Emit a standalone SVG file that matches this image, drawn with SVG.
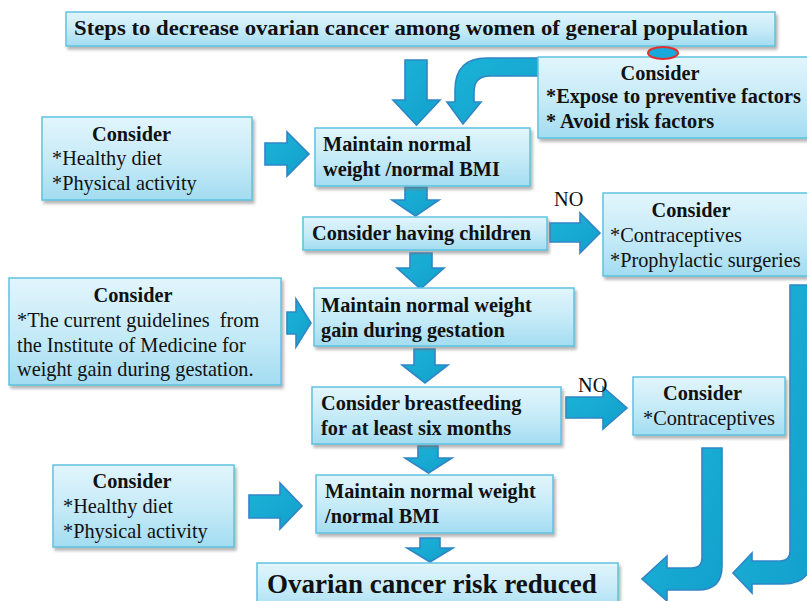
<svg xmlns="http://www.w3.org/2000/svg" width="807" height="601" viewBox="0 0 807 601">
<defs>
<linearGradient id="boxg" x1="0" y1="0" x2="0" y2="1">
<stop offset="0" stop-color="#e2f5fc"/>
<stop offset="0.55" stop-color="#c4eaf7"/>
<stop offset="1" stop-color="#a3dcf1"/>
</linearGradient>
<linearGradient id="arrg" x1="0" y1="0" x2="1" y2="1">
<stop offset="0" stop-color="#1cb3d8"/>
<stop offset="1" stop-color="#12a0cc"/>
</linearGradient>
<filter id="sh" x="-10%" y="-10%" width="125%" height="140%">
<feDropShadow dx="2" dy="3" stdDeviation="1.8" flood-color="#7a7a7a" flood-opacity="0.55"/>
</filter>
<style>
.box{fill:url(#boxg);stroke:#5fc3df;stroke-width:1.5;filter:url(#sh)}
.arr{fill:url(#arrg);stroke:#2f86c6;stroke-width:1.6;stroke-linejoin:miter}
.b{font-family:"Liberation Serif","Times New Roman",serif;font-weight:bold;font-size:20.3px;fill:#111}
.r{font-family:"Liberation Serif","Times New Roman",serif;font-size:20.3px;fill:#111}
.c{text-anchor:middle}
.ttl{font-size:21px}
.big{font-size:27px}
</style>
</defs>
<rect width="807" height="601" fill="#ffffff"/>

<g id="connectors">
<path class="arr" d="M405,60 L427,60 L427,100 L440,100 L416.5,125 L393,100 L405,100 Z"/>
<path class="arr" d="M405,187 L427,187 L427,200 L439,200 L415.5,216 L392,200 L405,200 Z"/>
<path class="arr" d="M410,253 L432,253 L432,268 L444,268 L420.5,289 L397,268 L410,268 Z"/>
<path class="arr" d="M414,349 L435,349 L435,365 L448,365 L425,383 L402,365 L414,365 Z"/>
<path class="arr" d="M418,446 L438,446 L438,458 L452,458 L428.5,473 L405,458 L418,458 Z"/>
<path class="arr" d="M420,538 L440,538 L440,548 L453,548 L430,562 L407,548 L420,548 Z"/>
<path class="arr" d="M265,143 L287,143 L287,132 L309,154 L287,176 L287,165 L265,165 Z"/>
<path class="arr" d="M550,223 L580,223 L580,213 L600,233 L580,253 L580,242 L550,242 Z"/>
<path class="arr" d="M287,312 L296,312 L296,299 L311,323 L296,347 L296,334 L287,334 Z"/>
<path class="arr" d="M566,397 L603,397 L603,387 L627,408 L603,429 L603,418 L566,418 Z"/>
<path class="arr" d="M249,495 L280,495 L280,483 L302,506 L280,529 L280,518 L249,518 Z"/>
<path class="arr" d="M545,58 L487,58 Q455,58 455,90 L455,102 L447,102 L463,124 L481,102 L474,102 L474,92 Q474,76 490,76 L545,76 Z"/>
<path class="arr" d="M702,448 L722,448 L722,566 Q722,590 698,590 L667,590 L667,601 L642,579 L667,556 L667,568 L692,568 Q702,568 702,558 Z"/>
<path class="arr" d="M790,285 L812,285 L812,555 Q812,584 783,584 L752,584 L752,593 L733,573 L752,553 L752,561 L780,561 Q790,561 790,551 Z"/>
</g>

<g id="title">
<rect class="box" x="66" y="12" width="709" height="34"/>
<text class="b ttl" x="74" y="35" textLength="674" lengthAdjust="spacingAndGlyphs">Steps to decrease ovarian cancer among women of general population</text>
</g>

<g id="consider-top">
<rect class="box" x="538" y="57" width="280" height="81"/>
<text class="b c" x="660" y="80">Consider</text>
<text class="b" x="546" y="103">*Expose to preventive factors</text>
<text class="b" x="546" y="128">* Avoid risk factors</text>
</g>

<g id="marker-dot">
<ellipse cx="663" cy="53" rx="15" ry="6" fill="#18a8db" stroke="#e2302f" stroke-width="2"/>
</g>

<g id="consider-left-1">
<rect class="box" x="42" y="117" width="210" height="83"/>
<text class="b c" x="131.5" y="141">Consider</text>
<text class="r" x="52" y="165">*Healthy diet</text>
<text class="r" x="52" y="190">*Physical activity</text>
</g>

<g id="maintain-bmi-1">
<rect class="box" x="315" y="128" width="215" height="58"/>
<text class="b" x="323" y="151">Maintain normal</text>
<text class="b" x="323" y="176">weight /normal BMI</text>
</g>

<g id="having-children">
<rect class="box" x="303" y="217" width="244" height="33"/>
<text class="b" x="312" y="240">Consider having children</text>
</g>

<g id="no-label-1">
<text class="r" x="554" y="206">NO</text>
</g>

<g id="consider-right-1">
<rect class="box" x="603" y="193" width="215" height="83"/>
<text class="b c" x="691" y="217">Consider</text>
<text class="r" x="610" y="242">*Contraceptives</text>
<text class="r" x="610" y="267">*Prophylactic surgeries</text>
</g>

<g id="consider-left-2">
<rect class="box" x="9" y="278" width="272" height="107"/>
<text class="b c" x="133" y="302">Consider</text>
<text class="r" x="17" y="327" xml:space="preserve">*The current guidelines  from</text>
<text class="r" x="17" y="352">the Institute of Medicine for</text>
<text class="r" x="17" y="376">weight gain during gestation.</text>
</g>

<g id="gestation">
<rect class="box" x="314" y="288" width="260" height="58"/>
<text class="b" x="321" y="312">Maintain normal weight</text>
<text class="b" x="321" y="337">gain during gestation</text>
</g>

<g id="breastfeeding">
<rect class="box" x="312" y="387" width="249" height="57"/>
<text class="b" x="321" y="410">Consider breastfeeding</text>
<text class="b" x="321" y="435">for at least six months</text>
</g>

<g id="no-label-2">
<text class="r" x="578" y="392">NO</text>
</g>

<g id="consider-right-2">
<rect class="box" x="633" y="377" width="152" height="58"/>
<text class="b c" x="702.5" y="400">Consider</text>
<text class="r" x="643" y="425">*Contraceptives</text>
</g>

<g id="consider-left-3">
<rect class="box" x="53" y="465" width="181" height="82"/>
<text class="b c" x="132" y="488">Consider</text>
<text class="r" x="63" y="513">*Healthy diet</text>
<text class="r" x="63" y="538">*Physical activity</text>
</g>

<g id="maintain-bmi-2">
<rect class="box" x="316" y="475" width="237" height="58"/>
<text class="b" x="325" y="498">Maintain normal weight</text>
<text class="b" x="325" y="523">/normal BMI</text>
</g>

<g id="risk-reduced">
<rect class="box" x="257" y="563" width="361" height="50"/>
<text class="b big" x="267" y="593">Ovarian cancer risk reduced</text>
</g>
</svg>
